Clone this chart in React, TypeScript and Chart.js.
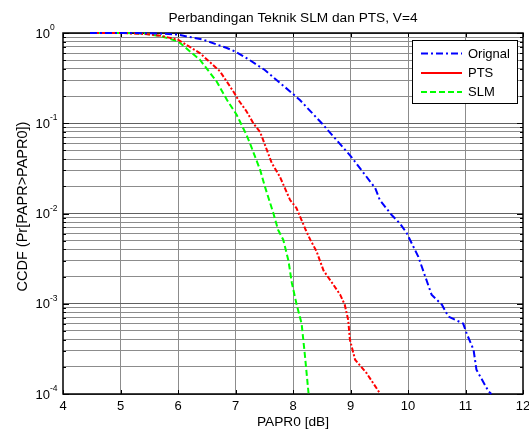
import { useEffect, useRef } from 'react';
import { Chart, registerables } from 'chart.js';

Chart.register(...registerables);

const FONT = '"Liberation Sans", Arial, Helvetica, sans-serif';

const titleText = 'Perbandingan Teknik SLM dan PTS, V=4';
const xLabel = 'PAPR0 [dB]';
const yLabel = 'CCDF (Pr[PAPR>PAPR0])';

const xTicks = [4, 5, 6, 7, 8, 9, 10, 11, 12];
const yDecades = [1, 0.1, 0.01, 0.001, 0.0001];
const yExponents = ['0', '-1', '-2', '-3', '-4'];
const yMinorSteps = [2, 3, 4, 5, 6, 7, 8, 9];

const legendLabels = ['Orignal', 'PTS', 'SLM'];

const origX = [4.47, 5.3, 5.7, 6.0, 6.44, 6.85, 7.0, 7.25, 7.51, 8.02, 8.12, 8.5, 9.01, 9.43, 9.51, 9.72, 9.86, 9.98, 10.18, 10.3, 10.41, 10.59, 10.7, 10.96, 11.02, 11.14, 11.19, 11.4, 11.45];
const origY = [1, 0.999, 0.985, 0.959, 0.843, 0.682, 0.621, 0.5, 0.389, 0.206, 0.181, 0.1, 0.0427, 0.0191, 0.0141, 0.00955, 0.00776, 0.00603, 0.00331, 0.002, 0.00126, 0.000977, 0.000724, 0.000603, 0.000468, 0.000309, 0.000186, 0.000107, 0.0001];

const ptsX = [4.47, 5.0, 5.4, 5.7, 6.0, 6.38, 6.73, 6.96, 7.05, 7.19, 7.31, 7.43, 7.63, 7.77, 7.95, 8.06, 8.12, 8.22, 8.3, 8.41, 8.53, 8.67, 8.82, 8.9, 8.96, 8.99, 9.08, 9.28, 9.51];
const ptsY = [1, 1, 0.977, 0.933, 0.843, 0.6, 0.376, 0.226, 0.181, 0.136, 0.1, 0.0794, 0.0363, 0.0257, 0.0141, 0.0115, 0.00933, 0.0066, 0.00513, 0.0038, 0.00234, 0.00174, 0.00126, 0.000977, 0.000661, 0.000398, 0.00024, 0.00017, 0.000102];

const slmX = [4.47, 5.0, 5.4, 5.7, 6.0, 6.38, 6.67, 6.85, 7.02, 7.19, 7.25, 7.43, 7.51, 7.66, 7.74, 7.83, 7.92, 7.98, 8.06, 8.15, 8.21, 8.27];
const slmY = [1, 1, 0.989, 0.923, 0.809, 0.506, 0.292, 0.182, 0.124, 0.0746, 0.0603, 0.0302, 0.02, 0.01, 0.0066, 0.00513, 0.00302, 0.0017, 0.001, 0.000603, 0.000257, 0.000102];

const BLUE = 'rgb(0,0,255)';
const RED = 'rgb(255,0,0)';
const GREEN = 'rgb(0,255,0)';
const BLUE_DASH = [7, 3, 2, 3];
const RED_DASH = [5, 2, 2, 2];
const GREEN_DASH = [6, 3];

const yGridValues: number[] = [];
yDecades.slice(1).forEach((d) => {
  yGridValues.push(d);
  yMinorSteps.forEach((m) => yGridValues.push(m * d));
});
yGridValues.push(1);

const isDecade = (v: number) => yDecades.some((d) => Math.abs(v - d) < d * 1e-6);

const decor = {
  id: 'decor',
  beforeDatasetsDraw(chart: any) {
    const { ctx, chartArea: a, scales } = chart;
    const xs = scales.x;
    const ys = scales.y;
    ctx.save();
    ctx.strokeStyle = '#000';
    ctx.lineWidth = 1;
    ctx.setLineDash([]);
    yGridValues.forEach((v) => {
      const py = Math.round(ys.getPixelForValue(v)) + 0.5;
      const len = isDecade(v) ? 6 : 3;
      ctx.beginPath();
      ctx.moveTo(a.left, py);
      ctx.lineTo(a.left + len, py);
      ctx.moveTo(a.right, py);
      ctx.lineTo(a.right - len, py);
      ctx.stroke();
    });
    xTicks.forEach((v) => {
      const px = Math.round(xs.getPixelForValue(v)) + 0.5;
      ctx.beginPath();
      ctx.moveTo(px, a.bottom);
      ctx.lineTo(px, a.bottom - 4);
      ctx.moveTo(px, a.top);
      ctx.lineTo(px, a.top + 4);
      ctx.stroke();
    });
    ctx.lineWidth = 1.5;
    ctx.strokeRect(a.left, a.top, a.right - a.left, a.bottom - a.top);
    ctx.restore();
  },
  afterDraw(chart: any) {
    const { ctx, chartArea: a, scales } = chart;
    const ys = scales.y;
    ctx.save();

    ctx.fillStyle = '#000';
    yDecades.forEach((d, i) => {
      const py = ys.getPixelForValue(d);
      ctx.font = `13px ${FONT}`;
      ctx.textAlign = 'right';
      ctx.textBaseline = 'alphabetic';
      ctx.fillText('10', a.left - 13, py + 4.5);
      ctx.font = `8.5px ${FONT}`;
      ctx.textAlign = 'left';
      ctx.fillText(yExponents[i], a.left - 13, py - 3);
    });

    ctx.font = `13.7px ${FONT}`;
    ctx.textAlign = 'center';
    ctx.textBaseline = 'alphabetic';
    ctx.fillText(titleText, (a.left + a.right) / 2, 21.7);

    ctx.save();
    ctx.translate(26.7, 206.5);
    ctx.rotate(-Math.PI / 2);
    ctx.font = `14.5px ${FONT}`;
    ctx.textAlign = 'center';
    ctx.textBaseline = 'alphabetic';
    ctx.fillText(yLabel, 0, 0);
    ctx.restore();

    const lx = 412, ly = 40, lw = 105, lh = 63;
    ctx.fillStyle = '#fff';
    ctx.fillRect(lx, ly, lw, lh);
    ctx.strokeStyle = '#000';
    ctx.lineWidth = 1;
    ctx.strokeRect(lx + 0.5, ly + 0.5, lw, lh);
    const rows = [
      { color: BLUE, dash: BLUE_DASH, y: 53.5 },
      { color: RED, dash: [] as number[], y: 73 },
      { color: GREEN, dash: GREEN_DASH, y: 92 },
    ];
    rows.forEach((r, i) => {
      ctx.strokeStyle = r.color;
      ctx.lineWidth = 2;
      ctx.setLineDash(r.dash);
      ctx.beginPath();
      ctx.moveTo(421, r.y);
      ctx.lineTo(462, r.y);
      ctx.stroke();
      ctx.setLineDash([]);
      ctx.fillStyle = '#000';
      ctx.font = `13px ${FONT}`;
      ctx.textAlign = 'left';
      ctx.textBaseline = 'middle';
      ctx.fillText(legendLabels[i], 468, r.y + 0.5);
    });

    ctx.restore();
  },
};

export default function App() {
  const ref = useRef<HTMLCanvasElement | null>(null);

  useEffect(() => {
    document.body.style.margin = '0';
    const canvas = ref.current;
    if (!canvas) return;
    const mk = (xv: number[], yv: number[]) => xv.map((x, i) => ({ x, y: yv[i] }));
    const common = { borderWidth: 2, pointRadius: 0, tension: 0, fill: false, clip: false };
    const chart = new Chart(canvas, {
      type: 'line',
      data: {
        datasets: [
          { ...common, label: legendLabels[0], data: mk(origX, origY), borderColor: BLUE, borderDash: BLUE_DASH },
          { ...common, label: legendLabels[1], data: mk(ptsX, ptsY), borderColor: RED, borderDash: RED_DASH },
          { ...common, label: legendLabels[2], data: mk(slmX, slmY), borderColor: GREEN, borderDash: GREEN_DASH },
        ],
      },
      options: {
        animation: false,
        responsive: false,
        events: [],
        layout: { padding: { top: 33, right: 6, left: 0, bottom: 0 } },
        plugins: {
          legend: { display: false },
          title: { display: false },
          tooltip: { enabled: false },
        },
        scales: {
          x: {
            type: 'linear',
            min: 4,
            max: 12,
            afterBuildTicks: (scale: any) => {
              scale.ticks = xTicks.map((v) => ({ value: v }));
            },
            afterFit: (scale: any) => {
              scale.height = 36;
              scale.paddingLeft = 0;
              scale.paddingRight = 0;
            },
            ticks: {
              color: '#000',
              font: { family: FONT, size: 13 },
              padding: 5,
              maxRotation: 0,
              autoSkip: false,
              callback: (v: any) => String(v),
            },
            grid: {
              color: (c: any) => (c.tick && (c.tick.value === 4 || c.tick.value === 12) ? 'rgba(0,0,0,0)' : '#8c8c8c'),
              drawTicks: false,
              lineWidth: 1,
            },
            border: { display: false },
            title: {
              display: true,
              text: xLabel,
              color: '#000',
              font: { family: FONT, size: 13.7 },
              padding: { top: 0, bottom: 0 },
            },
          },
          y: {
            type: 'logarithmic',
            min: 0.0001,
            max: 1,
            afterBuildTicks: (scale: any) => {
              scale.ticks = yGridValues.map((v) => ({ value: v }));
            },
            afterFit: (scale: any) => {
              scale.width = 63;
              scale.paddingTop = 0;
              scale.paddingBottom = 0;
            },
            ticks: { display: false },
            grid: {
              color: (c: any) => (c.tick && isDecade(c.tick.value) ? '#606060' : '#8c8c8c'),
              drawTicks: false,
              lineWidth: 1,
            },
            border: { display: false },
          },
        },
      },
      plugins: [decor],
    } as any);
    return () => chart.destroy();
  }, []);

  return (
    <div style={{ width: 529, height: 430, background: '#fff' }}>
      <canvas ref={ref} width={529} height={430} style={{ display: 'block' }} />
    </div>
  );
}
